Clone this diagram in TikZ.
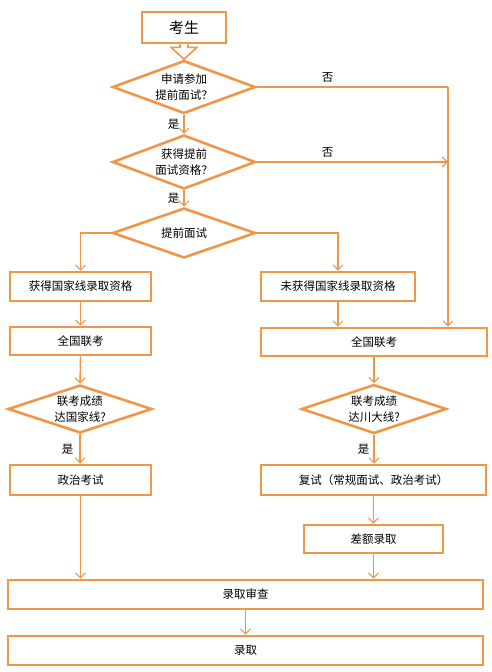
\documentclass[tikz,border=0pt]{standalone}
\usepackage{fontspec}
\setmainfont{Noto Sans CJK SC}
\usetikzlibrary{shapes.geometric,arrows.meta,calc}
\definecolor{og}{RGB}{240,150,72}
\begin{document}
\begin{tikzpicture}[x=1pt,y=-1pt,
  box/.style={draw=og,line width=2.6pt,rectangle,inner sep=0pt,font=\fontsize{11.5}{14}\selectfont},
  dia/.style={draw=og,line width=2.6pt,diamond,aspect=2.7,inner sep=0pt,align=center,font=\fontsize{11.5}{16}\selectfont},
  conn/.style={draw=og,line width=1.4pt,-{Straight Barb[length=5pt,width=10pt,line width=1.2pt]}},
  plain/.style={draw=og,line width=1.4pt},
  lab/.style={font=\fontsize{11.5}{14}\selectfont,inner sep=1pt}]
\useasboundingbox (0,0) rectangle (491,672);
% nodes
\node[box,minimum width=84pt,minimum height=31pt,font=\fontsize{15}{18}\selectfont] (s) at (184,27.5) {考生};
\node[dia,minimum width=143pt,minimum height=53pt] (d1) at (184,87) {申请参加\\提前面试？};
\node[dia,minimum width=143pt,minimum height=54pt] (d2) at (184,162) {获得提前\\面试资格？};
\node[dia,minimum width=143pt,minimum height=50pt] (d3) at (184,233) {提前面试};
\node[box,minimum width=141pt,minimum height=29pt] (b1) at (80.5,286.5) {获得国家线录取资格};
\node[box,minimum width=154pt,minimum height=29pt] (b2) at (338,286.5) {未获得国家线录取资格};
\node[box,minimum width=141pt,minimum height=28pt] (b3) at (80.5,341) {全国联考};
\node[box,minimum width=226pt,minimum height=28pt] (b4) at (374,342) {全国联考};
\node[dia,minimum width=144pt,minimum height=48pt] (d4) at (80,409) {联考成绩\\达国家线?};
\node[dia,minimum width=145pt,minimum height=49pt] (d5) at (374,409) {联考成绩\\达川大线?};
\node[box,minimum width=141pt,minimum height=30pt] (b5) at (80.5,480) {政治考试};
\node[box,minimum width=225pt,minimum height=30pt] (b6) at (373.5,480) {复试（常规面试、政治考试）};
\node[box,minimum width=139pt,minimum height=28pt] (b7) at (373.5,539) {差额录取};
\node[box,minimum width=475pt,minimum height=29pt] (b8) at (245.5,594.5) {录取审查};
\node[box,minimum width=475pt,minimum height=29pt] (b9) at (245.5,650.5) {录取};
\coordinate (rx) at (448,0);
% hollow block arrow from start
\draw[og,line width=1.6pt,line join=miter]
  ($(s.south)+(-4,0)$) -- ($(s.south)+(-4,3)$) -- ($(s.south)+(-13,3)$) -- (d1.north)
  -- ($(s.south)+(13,3)$) -- ($(s.south)+(4,3)$) -- ($(s.south)+(4,0)$);
% connectors
\draw[conn] (d1.south) -- node[lab,left=3pt]{是} (d2.north);
\draw[conn] (d2.south) -- node[lab,left=3pt]{是} (d3.north);
\draw[plain] (d1.east) -- node[lab,above=3pt,pos=0.37]{否} (d1.east -| rx);
\draw[conn] (d1.east -| rx) -- (rx |- b4.north);
\draw[conn] (d2.east) -- node[lab,above=3pt,pos=0.37]{否} (d2.east -| rx);
\draw[conn] (d3.west) -| (b1.north);
\draw[conn] (d3.east) -| (b2.north);
\draw[conn] (b1.south) -- (b3.north);
\draw[conn] (b2.south) -- (b2.south |- b4.north);
\draw[conn] (b3.south) -- (d4.north);
\draw[conn] (b4.south) -- (d5.north);
\draw[conn] (d4.south) -- node[lab,left=5pt]{是} (d4.south |- b5.north);
\draw[conn] (d5.south) -- node[lab,left=3pt]{是} (d5.south |- b6.north);
\draw[conn] (b5.south) -- (b5.south |- b8.north);
\draw[conn] (b6.south) -- (b6.south |- b7.north);
\draw[conn] (b7.south) -- (b7.south |- b8.north);
\draw[conn] (b8.south) -- (b9.north);
\end{tikzpicture}
\end{document}
